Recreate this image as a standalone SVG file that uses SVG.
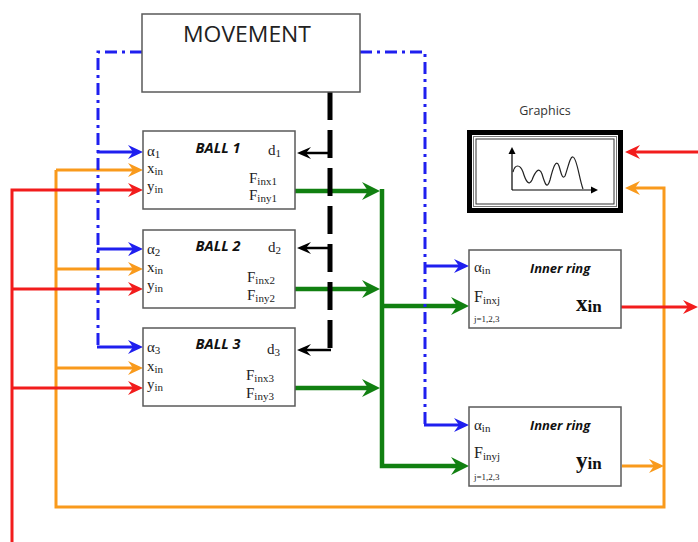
<svg xmlns="http://www.w3.org/2000/svg" width="698" height="542" viewBox="0 0 698 542">
<style>
.box{fill:#fff;stroke:#5a5a5a;stroke-width:1.5}
.s{font-family:"Liberation Serif","Times New Roman",serif;font-size:15px;fill:#222}
.sub{font-size:11px}
.bi{font-family:"Open Sans","Liberation Sans",sans-serif;font-weight:bold;font-style:italic;fill:#111}
.c{fill:none}
.red{stroke:#f21c1c;stroke-width:3}
.org{stroke:#f99a1c;stroke-width:3}
.grn{stroke:#118011;stroke-width:4.5}
.blu{stroke:#1f1fef;stroke-width:3}
.bld{stroke:#1f1fef;stroke-width:3;stroke-dasharray:12 5 3 5}
.blk{stroke:#000;stroke-width:2.5}
.bkd{stroke:#000;stroke-width:5;stroke-dasharray:28 10}
</style>
<defs>
<marker id="aR" markerUnits="userSpaceOnUse" viewBox="-16 -8 18 16" markerWidth="18" markerHeight="16" refX="-8" refY="0" orient="auto"><path d="M-15,-7 L0,0 L-15,7 L-10,0 Z" fill="#f21c1c"/></marker>
<marker id="aO" markerUnits="userSpaceOnUse" viewBox="-16 -8 18 16" markerWidth="18" markerHeight="16" refX="-8" refY="0" orient="auto"><path d="M-15,-7 L0,0 L-15,7 L-10,0 Z" fill="#f99a1c"/></marker>
<marker id="aB" markerUnits="userSpaceOnUse" viewBox="-16 -8 18 16" markerWidth="18" markerHeight="16" refX="-8" refY="0" orient="auto"><path d="M-15,-7 L0,0 L-15,7 L-10,0 Z" fill="#1f1fef"/></marker>
<marker id="aK" markerUnits="userSpaceOnUse" viewBox="-16 -8 18 16" markerWidth="18" markerHeight="16" refX="-8" refY="0" orient="auto"><path d="M-14,-6 L0,0 L-14,6 L-9,0 Z" fill="#000"/></marker>
<marker id="aG" markerUnits="userSpaceOnUse" viewBox="-20 -10 22 20" markerWidth="22" markerHeight="20" refX="-10" refY="0" orient="auto"><path d="M-18,-9 L0,0 L-18,9 L-12,0 Z" fill="#118011"/></marker>
<marker id="aS" markerUnits="userSpaceOnUse" viewBox="-8 -4 9 8" markerWidth="9" markerHeight="8" refX="-3" refY="0" orient="auto"><path d="M-7,-3.5 L0,0 L-7,3.5 Z" fill="#000"/></marker>
</defs>

<g id="connectors">
<path class="c org" d="M56,170 H135" marker-end="url(#aO)"/>
<path class="c org" d="M56,269 H135" marker-end="url(#aO)"/>
<path class="c org" d="M56,368 H135" marker-end="url(#aO)"/>
<path class="c org" d="M56,170 V507 H664 V188 H633" marker-end="url(#aO)"/>
<path class="c org" d="M622,466 H656" marker-end="url(#aO)"/>
<path class="c red" d="M12,545 V190 H135" marker-end="url(#aR)"/>
<path class="c red" d="M12,289 H135" marker-end="url(#aR)"/>
<path class="c red" d="M12,388 H135" marker-end="url(#aR)"/>
<path class="c red" d="M621,307 H690" marker-end="url(#aR)"/>
<path class="c red" d="M702,152 H633" marker-end="url(#aR)"/>
<path class="c grn" d="M295,191 H370" marker-end="url(#aG)"/>
<path class="c grn" d="M295,289 H370" marker-end="url(#aG)"/>
<path class="c grn" d="M295,388 H370" marker-end="url(#aG)"/>
<path class="c grn" d="M382,189 V466 H459" marker-end="url(#aG)"/>
<path class="c grn" d="M382,306 H459" marker-end="url(#aG)"/>
<path class="c bld" d="M142,52 H98 V347"/>
<path class="c bld" d="M360,52 H425 V425"/>
<path class="c blu" d="M97,152 H135" marker-end="url(#aB)"/>
<path class="c blu" d="M97,249 H135" marker-end="url(#aB)"/>
<path class="c blu" d="M97,347 H135" marker-end="url(#aB)"/>
<path class="c blu" d="M424,266 H461" marker-end="url(#aB)"/>
<path class="c blu" d="M424,425 H461" marker-end="url(#aB)"/>
<path class="c bkd" d="M330,92 V356"/>
<path class="c blk" d="M331,153 H305" marker-end="url(#aK)"/>
<path class="c blk" d="M331,248 H305" marker-end="url(#aK)"/>
<path class="c blk" d="M331,350 H305" marker-end="url(#aK)"/>
</g>

<g id="movement">
<rect class="box" x="142" y="14" width="218" height="78"/>
<text x="247" y="42" text-anchor="middle" font-family="'Open Sans','Liberation Sans',sans-serif" font-size="21" fill="#222" textLength="128" lengthAdjust="spacingAndGlyphs">MOVEMENT</text>
</g>

<g id="ball1">
<rect class="box" x="143" y="131" width="152" height="78"/>
<text class="s" x="147" y="156">α<tspan class="sub" dy="2">1</tspan></text>
<text class="s" x="147" y="173">x<tspan class="sub" dy="2">in</tspan></text>
<text class="s" x="147" y="191">y<tspan class="sub" dy="2">in</tspan></text>
<text class="bi" x="218" y="153" style="font-size:14.5px" text-anchor="middle">BALL 1</text>
<text class="s" x="268" y="155">d<tspan class="sub" dy="2">1</tspan></text>
<text class="s" x="249" y="183">F<tspan class="sub" dy="2">inx1</tspan></text>
<text class="s" x="249" y="200">F<tspan class="sub" dy="2">iny1</tspan></text>
</g>

<g id="ball2">
<rect class="box" x="143" y="230" width="152" height="78"/>
<text class="s" x="147" y="254">α<tspan class="sub" dy="2">2</tspan></text>
<text class="s" x="147" y="272">x<tspan class="sub" dy="2">in</tspan></text>
<text class="s" x="147" y="290">y<tspan class="sub" dy="2">in</tspan></text>
<text class="bi" x="218" y="251" style="font-size:14.5px" text-anchor="middle">BALL 2</text>
<text class="s" x="268" y="252">d<tspan class="sub" dy="2">2</tspan></text>
<text class="s" x="247" y="282">F<tspan class="sub" dy="2">inx2</tspan></text>
<text class="s" x="247" y="300">F<tspan class="sub" dy="2">iny2</tspan></text>
</g>

<g id="ball3">
<rect class="box" x="143" y="328" width="152" height="78"/>
<text class="s" x="147" y="352">α<tspan class="sub" dy="2">3</tspan></text>
<text class="s" x="147" y="371">x<tspan class="sub" dy="2">in</tspan></text>
<text class="s" x="147" y="389">y<tspan class="sub" dy="2">in</tspan></text>
<text class="bi" x="218" y="349" style="font-size:14.5px" text-anchor="middle">BALL 3</text>
<text class="s" x="267" y="354">d<tspan class="sub" dy="2">3</tspan></text>
<text class="s" x="246" y="380">F<tspan class="sub" dy="2">inx3</tspan></text>
<text class="s" x="246" y="398">F<tspan class="sub" dy="2">iny3</tspan></text>
</g>

<g id="ring1">
<rect class="box" x="469" y="250" width="152" height="78"/>
<text class="s" x="474" y="272" style="font-size:15px">α<tspan class="sub" dy="2">in</tspan></text>
<text class="bi" x="530" y="273" style="font-size:13px">Inner ring</text>
<text class="s" x="474" y="302" style="font-size:16px">F<tspan class="sub" dy="2" style="font-size:11px">inxj</tspan></text>
<text class="s" x="474" y="322" style="font-size:9px">j=1,2,3</text>
<text class="s" x="576" y="311" style="font-size:23px;font-weight:bold;fill:#111">x<tspan dy="1" style="font-size:17px">in</tspan></text>
</g>

<g id="ring2">
<rect class="box" x="469" y="407" width="152" height="79"/>
<text class="s" x="474" y="430" style="font-size:15px">α<tspan class="sub" dy="2">in</tspan></text>
<text class="bi" x="530" y="430" style="font-size:13px">Inner ring</text>
<text class="s" x="474" y="458" style="font-size:16px">F<tspan class="sub" dy="2" style="font-size:11px">inyj</tspan></text>
<text class="s" x="474" y="480" style="font-size:9px">j=1,2,3</text>
<text class="s" x="576" y="468" style="font-size:23px;font-weight:bold;fill:#111">y<tspan dy="1" style="font-size:17px">in</tspan></text>
</g>

<g id="graphics">
<text x="545" y="115" text-anchor="middle" font-family="'Open Sans','Liberation Sans',sans-serif" font-size="12.5" fill="#333">Graphics</text>
<rect x="469.5" y="132.5" width="151" height="78" fill="#fff" stroke="#000" stroke-width="5"/>
<rect x="473.5" y="136.5" width="143" height="70" fill="none" stroke="#777" stroke-width="1"/>
<rect x="476" y="139" width="138" height="65" fill="none" stroke="#333" stroke-width="1"/>
<path d="M512,190 V150" fill="none" stroke="#000" stroke-width="1.2" marker-end="url(#aS)"/>
<path d="M512,190 H595" fill="none" stroke="#000" stroke-width="1.2" marker-end="url(#aS)"/>
<path d="M513,172 C515,164 520,164 523,172 C526,182 529,186 532,180 C535,172 539,166 542,174 C545,184 547,190 550,180 C553,168 556,158 559,166 C561,172 562,180 565,176 C568,168 570,156 573,157 C577,158 579,178 583,189" fill="none" stroke="#222" stroke-width="1.2"/>
</g>
</svg>
